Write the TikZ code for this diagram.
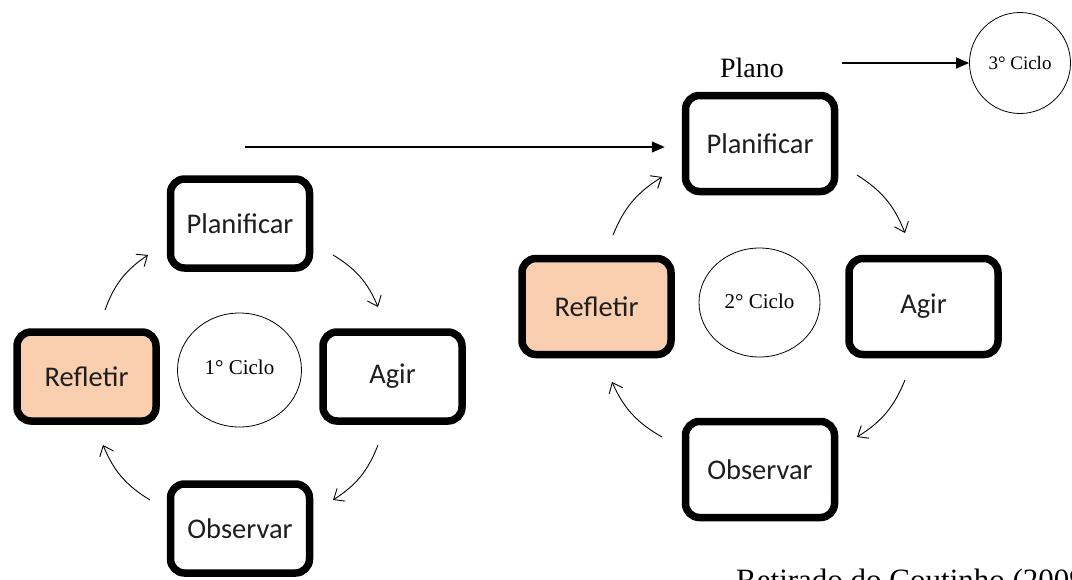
\documentclass[tikz,border=0pt]{standalone}
\usepackage{fontspec}
\setmainfont{Liberation Serif}
\newfontfamily\boxfont{Carlito}
\usetikzlibrary{arrows.meta,shapes.geometric,shadows}
\definecolor{peach}{RGB}{249,207,176}
\definecolor{boxtext}{RGB}{30,30,30}
\begin{document}
\begin{tikzpicture}[x=1pt,y=-1pt,
  stagebox/.style={draw=black, line width=7.5pt, rounded corners=14pt, fill=white,
    inner sep=0pt, text=boxtext, font=\boxfont\fontsize{28.5}{30}\selectfont,
    drop shadow={shadow xshift=2pt, shadow yshift=-2pt, opacity=0.25}},
  stageL/.style={stagebox, minimum width=139pt, minimum height=89pt},
  stageR/.style={stagebox, minimum width=149pt, minimum height=96pt},
  cyclenode/.style={draw=black, line width=0.8pt, ellipse, inner sep=0pt,
    font=\fontsize{21}{23}\selectfont},
  cyclearrow/.style={-{Straight Barb[length=9pt,width=15pt]}, line width=0.9pt, bend left=18},
  flowarrow/.style={-{Triangle[length=13pt,width=11pt]}, line width=1.2pt}]
\useasboundingbox (0,0) rectangle (1072,579);
\fill[white] (0,0) rectangle (1072,579);

% first cycle
\node[stageL] (P1) at (240,223.5) {Planificar};
\node[stageL, fill=peach] (R1) at (86.5,376.5) {Refletir};
\node[stageL] (A1) at (392.5,376.5) {Agir};
\node[stageL] (O1) at (240,528.5) {Observar};
\node[cyclenode, minimum width=124pt, minimum height=114pt] (C1) at (239.5,370) {\raisebox{5pt}{1° Ciclo}};

% second cycle
\node[stageR] (P2) at (760,143.5) {Planificar};
\node[stageR, fill=peach] (R2) at (596.5,306.5) {Refletir};
\node[stageR] (A2) at (923.5,306.5) {Agir};
\node[stageR] (O2) at (760,469.5) {Observar};
\node[cyclenode, minimum width=121pt, minimum height=109pt] (C2) at (759.5,302.5) {\raisebox{2pt}{2° Ciclo}};

% third cycle
\node[cyclenode, minimum width=101pt, minimum height=101pt, font=\fontsize{19}{21}\selectfont] (C3) at (1020,63) {3° Ciclo};
\node[font=\fontsize{28}{30}\selectfont] (plano) at (752,68) {Plano};

% caption
\node[anchor=base west, inner sep=0pt, font=\fontsize{31}{33}\selectfont] (cap) at (736,590) {Retirado do Coutinho (2009)};

% cycle arrow end points
\coordinate (a1s) at (105,310); \coordinate (a1e) at (148,255);
\coordinate (a2s) at (333,255); \coordinate (a2e) at (378,307);
\coordinate (a3s) at (378,445); \coordinate (a3e) at (333,500);
\coordinate (a4s) at (150,500); \coordinate (a4e) at (103,445);
\coordinate (b1s) at (613,235); \coordinate (b1e) at (662,177);
\coordinate (b2s) at (857,175); \coordinate (b2e) at (905,233);
\coordinate (b3s) at (905,380); \coordinate (b3e) at (857,437);
\coordinate (b4s) at (662,437); \coordinate (b4e) at (612,382);

\draw[cyclearrow] (a1s) to (a1e);
\draw[cyclearrow] (a2s) to (a2e);
\draw[cyclearrow] (a3s) to (a3e);
\draw[cyclearrow] (a4s) to (a4e);
\draw[cyclearrow] (b1s) to (b1e);
\draw[cyclearrow] (b2s) to (b2e);
\draw[cyclearrow] (b3s) to (b3e);
\draw[cyclearrow] (b4s) to (b4e);

% flow arrows
\coordinate (f1s) at (245,147);
\draw[flowarrow, shorten >=17pt] (f1s) -- (f1s -| P2.west);
\coordinate (f2s) at (842,63);
\draw[flowarrow] (f2s) -- (C3.west);
\end{tikzpicture}
\end{document}
